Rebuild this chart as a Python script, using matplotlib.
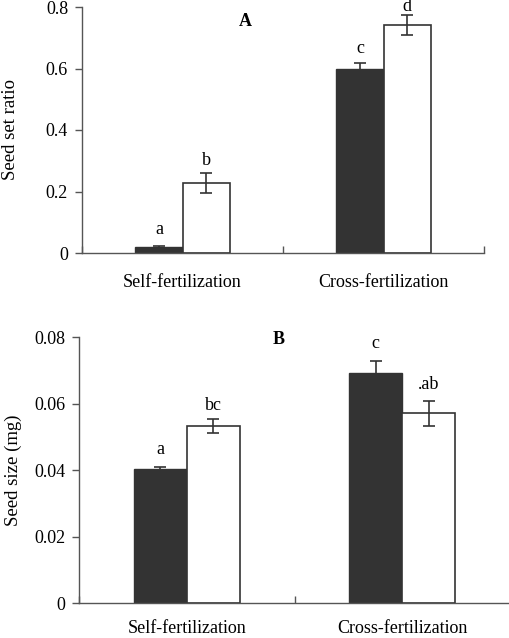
import matplotlib
matplotlib.use("Agg")
import matplotlib.pyplot as plt
import numpy as np

plt.rcParams['font.family'] = ['Liberation Serif', 'DejaVu Serif']

groups = ['Self-fertilization', 'Cross-fertilization']

# Panel A: seed set ratio
setA_dark = [0.020, 0.600]
setA_dark_err = [0.003, 0.018]
setA_white = [0.228, 0.741]
setA_white_err = [0.032, 0.033]
lettersA_dark = ['a', 'c']
lettersA_white = ['b', 'd']

# Panel B: seed size (mg)
sizeB_dark = [0.0403, 0.0692]
sizeB_dark_err = [0.0008, 0.0038]
sizeB_white = [0.0533, 0.0571]
sizeB_white_err = [0.0021, 0.0037]
lettersB_dark = ['a', 'c']
lettersB_white = ['bc', '.ab']

fig = plt.figure(figsize=(5.10, 6.38), dpi=100)
axA = fig.add_axes([82/510, 1-253/638, 402/510, 246/638])
axB = fig.add_axes([79/510, 1-603.3/638, 431/510, 266/638])

dark = '#333333'
edge = '#333333'
FS = 13


def panel(ax, dv, de, wv, we, ld, lw, ylim, yticks, ytl, ylabel, tag, tagx, tagy, w, xpad,
          offs_d=(4, 4), offs_w=(4, 4)):
    x = np.arange(len(groups))
    ax.bar(x - w/2, dv, w, color=dark, edgecolor=edge, linewidth=1.0, zorder=2)
    ax.bar(x + w/2, wv, w, color='white', edgecolor=edge, linewidth=1.2, zorder=2)
    ax.errorbar(x - w/2, dv, yerr=de, fmt='none', ecolor=edge, elinewidth=1.2,
                capsize=4.5, capthick=1.2, zorder=3)
    ax.errorbar(x + w/2, wv, yerr=we, fmt='none', ecolor=edge, elinewidth=1.2,
                capsize=4.5, capthick=1.2, zorder=3)
    for xi, v, e, t, o in zip(x - w/2, dv, de, ld, offs_d):
        ax.annotate(t, (xi, v + e), xytext=(0, o), textcoords='offset points',
                    ha='center', va='bottom', fontsize=FS, annotation_clip=False)
    for xi, v, e, t, o in zip(x + w/2, wv, we, lw, offs_w):
        ax.annotate(t, (xi, v + e), xytext=(0, o), textcoords='offset points',
                    ha='center', va='bottom', fontsize=FS, annotation_clip=False)
    ax.set_xlim(-0.5, 1.5)
    ax.set_ylim(*ylim)
    ax.set_yticks(yticks)
    ax.set_yticklabels(ytl, fontsize=FS)
    ax.tick_params(axis='y', direction='out', length=5, width=1, color='#555555', pad=5)
    ax.set_xticks([-0.5, 0.5, 1.5])
    ax.set_xticklabels([])
    ax.tick_params(axis='x', which='major', direction='in', length=5, width=1, color='#555555')
    ax.set_xticks(x, minor=True)
    ax.set_xticklabels(groups, minor=True, fontsize=FS)
    ax.tick_params(axis='x', which='minor', length=0, pad=xpad)
    for s in ['top', 'right']:
        ax.spines[s].set_visible(False)
    for s in ['left', 'bottom']:
        ax.spines[s].set_color('#555555')
        ax.spines[s].set_linewidth(1.0)
    ax.set_ylabel(ylabel, fontsize=13.5)
    ax.text(tagx, tagy, tag, transform=ax.transAxes, fontsize=FS, fontweight='bold',
            ha='center', va='center')


panel(axA, setA_dark, setA_dark_err, setA_white, setA_white_err,
      lettersA_dark, lettersA_white, (0, 0.8), [0, 0.2, 0.4, 0.6, 0.8],
      ['0', '0.2', '0.4', '0.6', '0.8'], 'Seed set ratio', 'A',
      (245-82)/402, 1-(21-7)/246, 0.235, 15, offs_d=(6, 4), offs_w=(3, 0))
panel(axB, sizeB_dark, sizeB_dark_err, sizeB_white, sizeB_white_err,
      lettersB_dark, lettersB_white, (0, 0.08), [0, 0.02, 0.04, 0.06, 0.08],
      ['0', '0.02', '0.04', '0.06', '0.08'], 'Seed size (mg)', 'B',
      (279-79)/431, 1-(339-337.3)/266, 0.245, 12, offs_d=(6, 6), offs_w=(4, 6))

axA.yaxis.set_label_coords((19-82)/402, 0.5)
axB.yaxis.set_label_coords((22-79)/431, 0.5)

fig.savefig('out.png', dpi=100)
